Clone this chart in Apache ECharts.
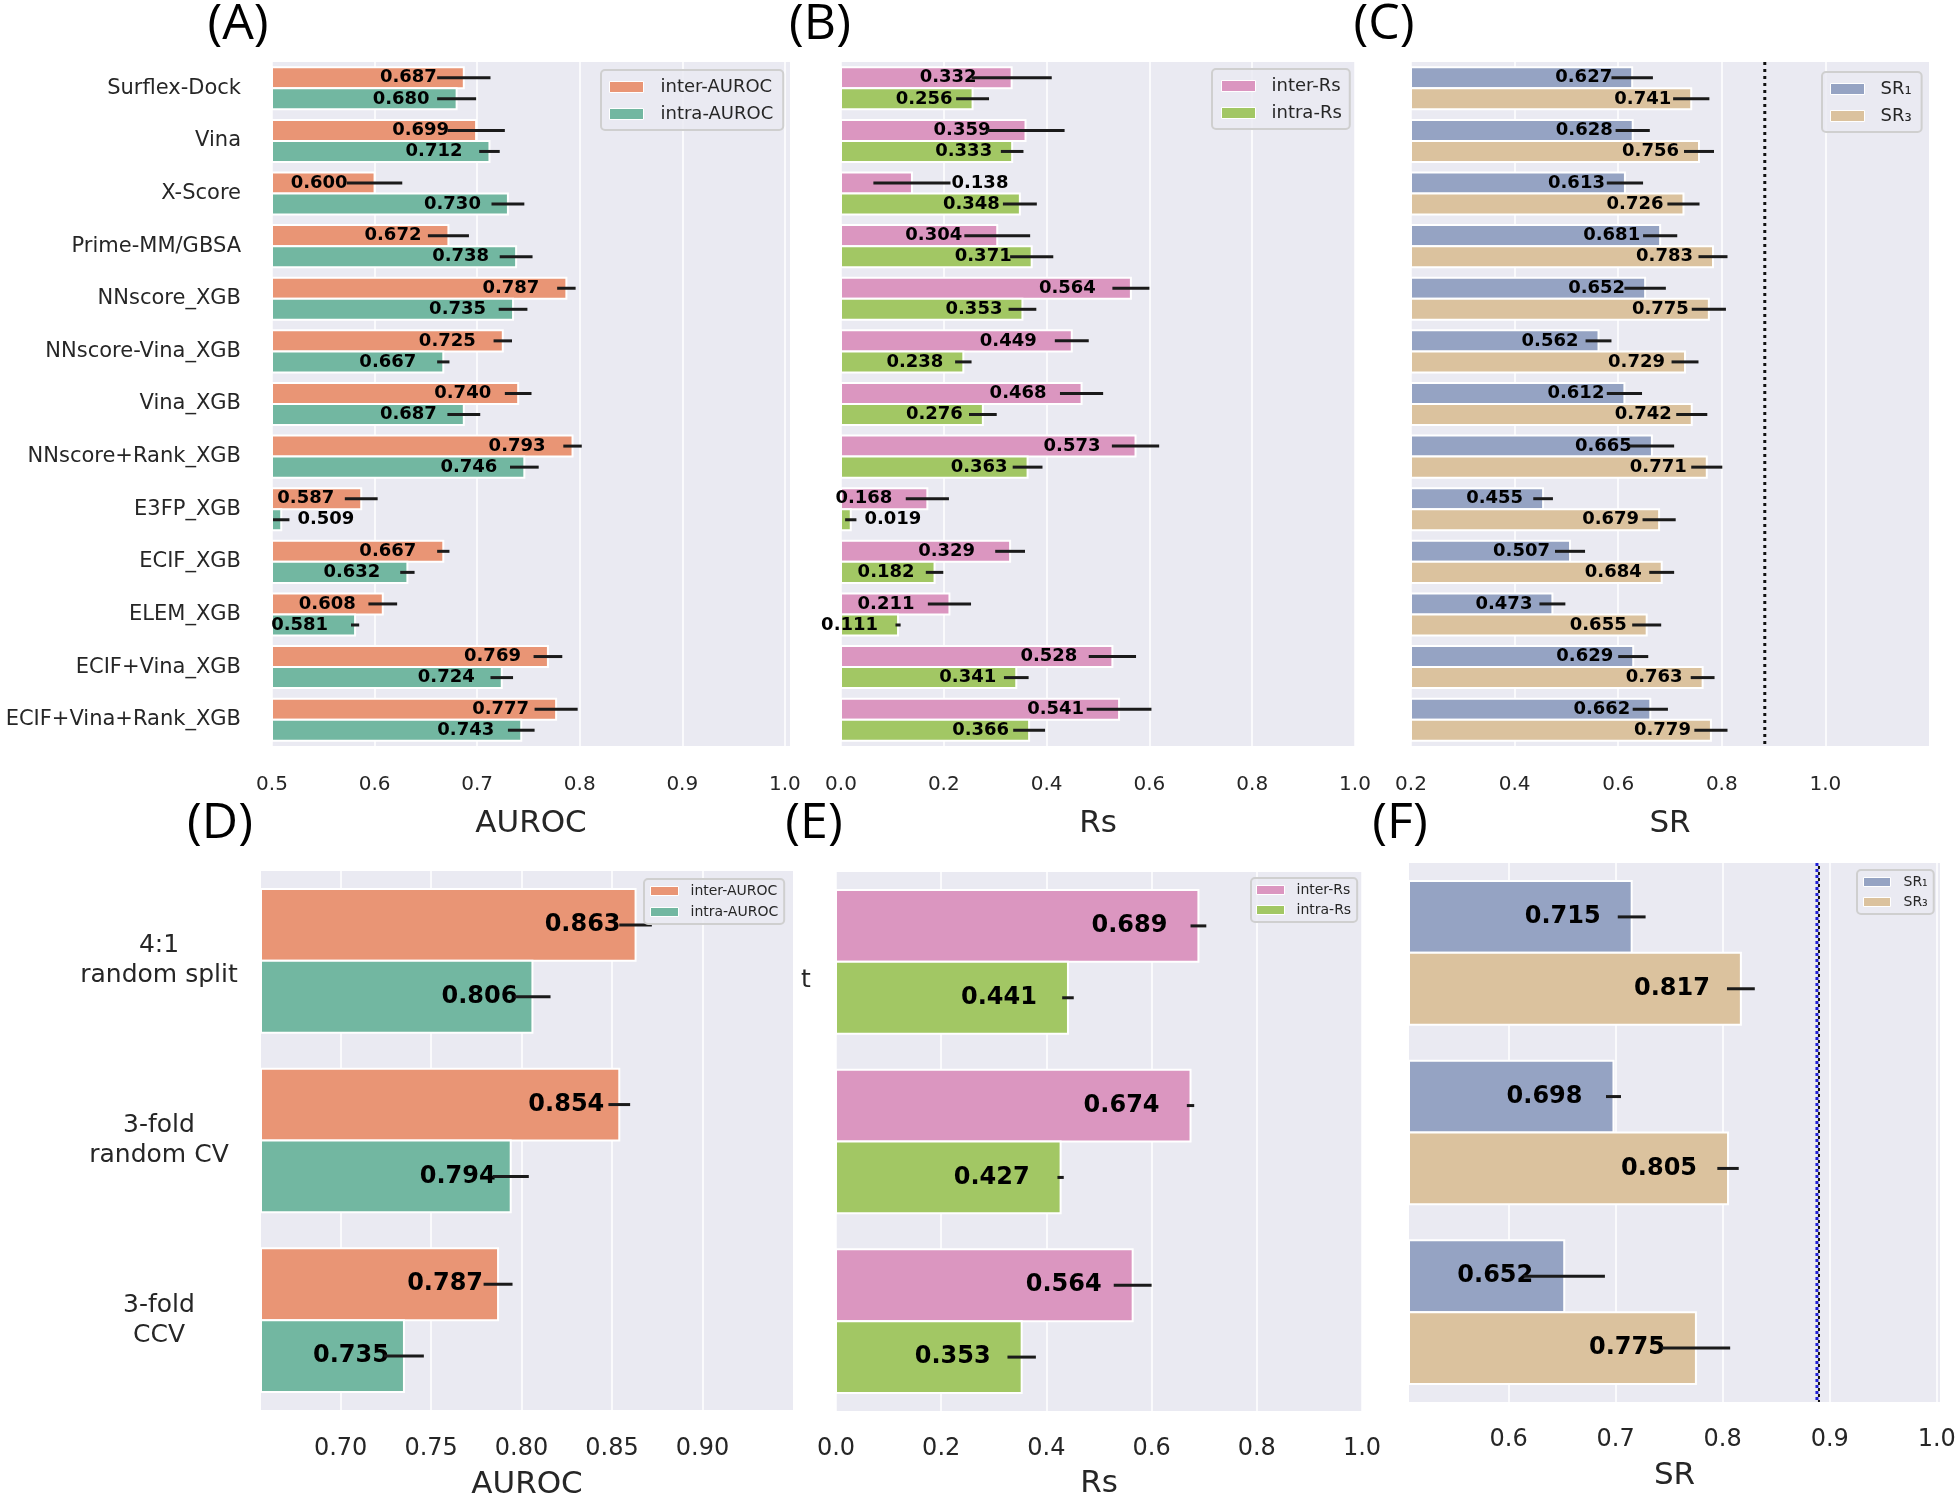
<!DOCTYPE html>
<html>
<head>
<meta charset="utf-8">
<script src="https://cdn.jsdelivr.net/npm/echarts@6/dist/echarts.min.js"></script>
<style>
html,body{margin:0;padding:0;background:#fff;}
#chart{width:1960px;height:1501px;}
</style>
</head>
<body>
<div id="chart"></div>
<script>
// ---------- DATA ----------
const catsTop = ['Surflex-Dock','Vina','X-Score','Prime-MM/GBSA','NNscore_XGB','NNscore-Vina_XGB','Vina_XGB','NNscore+Rank_XGB','E3FP_XGB','ECIF_XGB','ELEM_XGB','ECIF+Vina_XGB','ECIF+Vina+Rank_XGB'];
const interAUROC    = [0.687,0.699,0.600,0.672,0.787,0.725,0.740,0.793,0.587,0.667,0.608,0.769,0.777];
const interAUROCErr = [0.026,0.028,0.027,0.020,0.009,0.009,0.013,0.009,0.016,0.006,0.014,0.014,0.021];
const intraAUROC    = [0.680,0.712,0.730,0.738,0.735,0.667,0.687,0.746,0.509,0.632,0.581,0.724,0.743];
const intraAUROCErr = [0.019,0.010,0.016,0.016,0.014,0.006,0.016,0.014,0.008,0.007,0.004,0.011,0.013];
const interRs    = [0.332,0.359,0.138,0.304,0.564,0.449,0.468,0.573,0.168,0.329,0.211,0.528,0.541];
const interRsErr = [0.078,0.076,0.075,0.064,0.036,0.033,0.042,0.046,0.042,0.029,0.042,0.046,0.063];
const intraRs    = [0.256,0.333,0.348,0.371,0.353,0.238,0.276,0.363,0.019,0.182,0.111,0.341,0.366];
const intraRsErr = [0.032,0.022,0.033,0.042,0.027,0.016,0.027,0.029,0.011,0.017,0.005,0.024,0.031];
const sr1    = [0.627,0.628,0.613,0.681,0.652,0.562,0.612,0.665,0.455,0.507,0.473,0.629,0.662];
const sr1Err = [0.040,0.033,0.035,0.033,0.040,0.025,0.034,0.043,0.019,0.029,0.025,0.029,0.034];
const sr3    = [0.741,0.756,0.726,0.783,0.775,0.729,0.742,0.771,0.679,0.684,0.655,0.763,0.779];
const sr3Err = [0.035,0.029,0.031,0.028,0.033,0.026,0.030,0.030,0.032,0.024,0.028,0.023,0.032];

const catsBottom = ['4:1\nrandom split','3-fold\nrandom CV','3-fold\nCCV'];
const interAUROC2    = [0.863,0.854,0.787];
const interAUROC2Err = [0.009,0.006,0.008];
const intraAUROC2    = [0.806,0.794,0.735];
const intraAUROC2Err = [0.010,0.010,0.011];
const interRs2    = [0.689,0.674,0.564];
const interRs2Err = [0.015,0.007,0.036];
const intraRs2    = [0.441,0.427,0.353];
const intraRs2Err = [0.011,0.006,0.027];
const sr1b    = [0.715,0.698,0.652];
const sr1bErr = [0.013,0.007,0.038];
const sr3b    = [0.817,0.805,0.775];
const sr3bErr = [0.013,0.010,0.032];

const srRefTop = 0.883;
const srRefBottom = 0.889;

const ticksA = [0.5,0.6,0.7,0.8,0.9,1.0];
const ticksB = [0.0,0.2,0.4,0.6,0.8,1.0];
const ticksC = [0.2,0.4,0.6,0.8,1.0];
const ticksD = [0.70,0.75,0.80,0.85,0.90];
const ticksE = [0.0,0.2,0.4,0.6,0.8,1.0];
const ticksF = [0.6,0.7,0.8,0.9,1.0];

// ---------- STYLE ----------
const FONT = '"DejaVu Sans", "Liberation Sans", sans-serif';
const PFONT = '"Open Sans", "DejaVu Sans", sans-serif';
const TXT = '#262626';
const C_ORANGE = '#E99575', C_TEAL = '#72B7A1', C_PINK = '#DB96C0', C_GREEN = '#A2C764', C_BLUE = '#95A3C3', C_TAN = '#DBC29E';

const grids = [
  {left:272, top:62, width:518, height:684},
  {left:841, top:62, width:514, height:684},
  {left:1411, top:62, width:518, height:684},
  {left:261, top:871, width:532, height:541},
  {left:836, top:872, width:526, height:539},
  {left:1409, top:863, width:531, height:539}
];
const labelGap = [[27,27],[35,20],[20,20],[15,15],[31,31],[31,31]];
const labelFont = ['bold 18px','bold 18px','bold 18px','bold 24px','bold 24px','bold 24px'];
// labels placed outside (after the error bar): key panel-hue-index -> gap px
const outsideLabel = {'0-1-8':8, '1-0-2':1, '1-1-8':8};

function barSeries(p, hue, name, vals, errs, color) {
  return {
    type:'custom', name, xAxisIndex:p, yAxisIndex:p,
    itemStyle:{color},
    encode:{x:0, y:1},
    data: vals.map((v,i)=>[v, i, errs[i]]),
    renderItem(params, api){
      const v = api.value(0), ci = api.value(1), e = api.value(2);
      const cs = params.coordSys;
      const c = api.coord([v, ci]);
      const band = api.size([0,1])[1];
      const bh = band*0.4;
      const y0 = hue===0 ? c[1]-bh : c[1];
      const yc = y0 + bh/2;
      const xl = api.coord([v-e, ci])[0], xr = api.coord([v+e, ci])[0];
      const key = p+'-'+hue+'-'+params.dataIndex;
      let tx, align;
      if (outsideLabel[key] !== undefined) { tx = xr + outsideLabel[key]; align = 'left'; }
      else { tx = c[0] - labelGap[p][hue]; align = 'right'; }
      return {type:'group', children:[
        {type:'rect', shape:{x:cs.x, y:y0, width:c[0]-cs.x, height:bh}, style:{fill:color, stroke:'#ffffff', lineWidth:2}},
        {type:'text', style:{text:v.toFixed(3), x:tx, y:yc, align, verticalAlign:'middle', font:labelFont[p]+' '+FONT, fill:'#000'}},
        {type:'line', shape:{x1:xl, y1:yc, x2:xr, y2:yc}, style:{stroke:'#1a1a1a', lineWidth:3}}
      ]};
    }
  };
}

function refLine(p, val, styles) {
  return {
    type:'custom', xAxisIndex:p, yAxisIndex:p, silent:true,
    encode:{x:0, y:1},
    data:[[val, 0]],
    renderItem(params, api){
      const cs = params.coordSys;
      const x = api.coord([api.value(0), 0])[0];
      return {type:'group', children: styles.map(s=>({type:'line', shape:{x1:x+(s.dx||0), y1:cs.y, x2:x+(s.dx||0), y2:cs.y+cs.height}, style:s.style}))};
    }
  };
}

function xAxis(p, min, max, ticks, digits, margin, name, nameGap, fs) {
  return {
    type:'value', gridIndex:p, min, max,
    name, nameLocation:'middle', nameGap,
    nameTextStyle:{fontSize:31, color:TXT, fontFamily:FONT},
    axisLine:{show:false},
    axisTick:{show:false, customValues:ticks},
    axisLabel:{customValues:ticks, fontSize:fs, color:TXT, fontFamily:FONT, margin, formatter:v=>Number(v).toFixed(digits)},
    splitLine:{show:true, lineStyle:{color:'#ffffff', width:1.5}}
  };
}

function yAxis(p, cats, labelCfg) {
  return {
    type:'category', gridIndex:p, data:cats, inverse:true,
    axisLine:{show:false}, axisTick:{show:false}, splitLine:{show:false},
    axisLabel: labelCfg ? Object.assign({color:TXT, fontFamily:FONT}, labelCfg) : {show:false}
  };
}

function legend(left, top, names, o) {
  return {
    orient:'vertical', left, top, data:names, icon:'rect',
    itemWidth:o.iw, itemHeight:o.ih, itemGap:o.gap,
    padding:o.pad,
    backgroundColor:'rgba(234,234,242,0.85)', borderColor:'#cfcfcf', borderWidth:2, borderRadius:4,
    itemStyle:{borderColor:'#ffffff', borderWidth:1},
    textStyle:{fontSize:o.fs, lineHeight:o.fs, color:TXT, fontFamily:FONT, padding:[0,0,0,o.tp]}
  };
}

const chart = echarts.init(document.getElementById('chart'));
const option = {
  animation:false,
  backgroundColor:'#ffffff',
  grid: grids.map(g=>Object.assign({show:true, backgroundColor:'#EAEAF2', borderWidth:0}, g)),
  xAxis: [
    xAxis(0, 0.5, 1.005, ticksA, 1, 29, 'AUROC', 62, 20),
    xAxis(1, 0.0, 1.0, ticksB, 1, 29, 'Rs', 62, 20),
    xAxis(2, 0.2, 1.2, ticksC, 1, 29, 'SR', 62, 20),
    xAxis(3, 0.656, 0.95, ticksD, 2, 27, 'AUROC', 59, 24),
    xAxis(4, 0.0, 1.0, ticksE, 1, 26, 'Rs', 57, 24),
    xAxis(5, 0.507, 1.003, ticksF, 1, 26, 'SR', 58, 24)
  ],
  yAxis: [
    yAxis(0, catsTop, {fontSize:21, margin:31}),
    yAxis(1, catsTop, null),
    yAxis(2, catsTop, null),
    yAxis(3, catsBottom, {fontSize:25, lineHeight:30, margin:102, align:'center', padding:[10,0,0,0]}),
    yAxis(4, catsBottom, null),
    yAxis(5, catsBottom, null)
  ],
  legend: [
    legend(601, 70, ['inter-AUROC','intra-AUROC'], {iw:34, ih:11, gap:9, pad:[8,10,7,8], fs:18, tp:12}),
    legend(1212, 69, ['inter-Rs','intra-Rs'], {iw:34, ih:11, gap:9, pad:[8,8,7,9], fs:18, tp:11}),
    legend(1822, 72, ['SR\u2081','SR\u2083'], {iw:34, ih:11, gap:9, pad:[8,10,7,8], fs:18, tp:11}),
    legend(644, 879, ['inter-AUROC','intra-AUROC'], {iw:28, ih:9, gap:7, pad:[5,6,5,6], fs:14, tp:7}),
    legend(1251, 878, ['inter-Rs','intra-Rs'], {iw:28, ih:9, gap:6, pad:[5,6,5,5], fs:14, tp:7}),
    legend(1857, 870, ['SR\u2081','SR\u2083'], {iw:27, ih:9, gap:6, pad:[5,6,5,6], fs:14, tp:8})
  ],
  series: [
    barSeries(0, 0, 'inter-AUROC', interAUROC, interAUROCErr, C_ORANGE),
    barSeries(0, 1, 'intra-AUROC', intraAUROC, intraAUROCErr, C_TEAL),
    barSeries(1, 0, 'inter-Rs', interRs, interRsErr, C_PINK),
    barSeries(1, 1, 'intra-Rs', intraRs, intraRsErr, C_GREEN),
    barSeries(2, 0, 'SR\u2081', sr1, sr1Err, C_BLUE),
    barSeries(2, 1, 'SR\u2083', sr3, sr3Err, C_TAN),
    refLine(2, srRefTop, [{style:{stroke:'#111', lineWidth:3, lineDash:[3,4]}}]),
    barSeries(3, 0, 'inter-AUROC', interAUROC2, interAUROC2Err, C_ORANGE),
    barSeries(3, 1, 'intra-AUROC', intraAUROC2, intraAUROC2Err, C_TEAL),
    barSeries(4, 0, 'inter-Rs', interRs2, interRs2Err, C_PINK),
    barSeries(4, 1, 'intra-Rs', intraRs2, intraRs2Err, C_GREEN),
    barSeries(5, 0, 'SR\u2081', sr1b, sr1bErr, C_BLUE),
    barSeries(5, 1, 'SR\u2083', sr3b, sr3bErr, C_TAN),
    refLine(5, srRefBottom, [
      {dx:-1, style:{stroke:'#1f1fd6', lineWidth:3, lineDash:[3,3]}},
      {dx:1, style:{stroke:'#111', lineWidth:2, lineDash:[3,3], lineDashOffset:3}}
    ])
  ],
  graphic: [
    {type:'text', style:{text:'(A)', x:238, y:25, align:'center', verticalAlign:'middle', font:'50px '+PFONT, fill:'#000'}},
    {type:'text', style:{text:'(B)', x:820, y:25, align:'center', verticalAlign:'middle', font:'50px '+PFONT, fill:'#000'}},
    {type:'text', style:{text:'(C)', x:1384, y:25, align:'center', verticalAlign:'middle', font:'50px '+PFONT, fill:'#000'}},
    {type:'text', style:{text:'(D)', x:220, y:824, align:'center', verticalAlign:'middle', font:'50px '+PFONT, fill:'#000'}},
    {type:'text', style:{text:'(E)', x:814, y:824, align:'center', verticalAlign:'middle', font:'50px '+PFONT, fill:'#000'}},
    {type:'text', style:{text:'(F)', x:1400, y:824, align:'center', verticalAlign:'middle', font:'50px '+PFONT, fill:'#000'}},
    {type:'text', style:{text:'t', x:806, y:980, align:'center', verticalAlign:'middle', font:'25px '+FONT, fill:TXT}}
  ]
};
chart.setOption(option);
</script>
</body>
</html>
